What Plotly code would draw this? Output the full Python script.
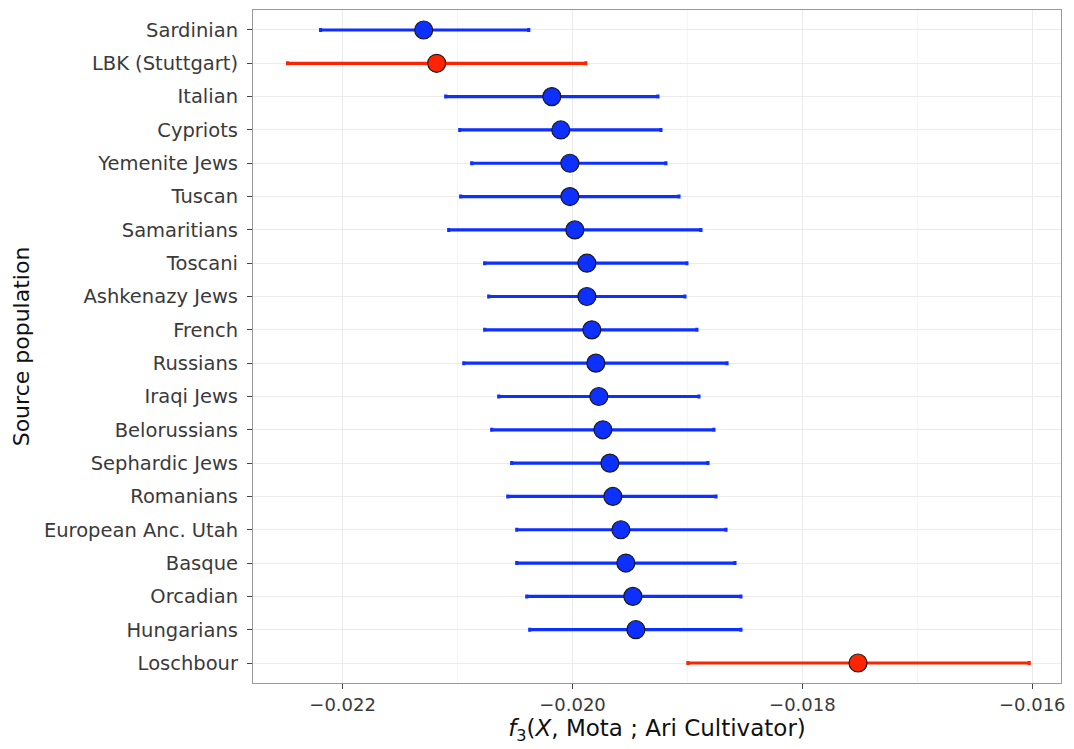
import plotly.graph_objects as go

populations = ["Sardinian", "LBK (Stuttgart)", "Italian", "Cypriots", "Yemenite Jews",
               "Tuscan", "Samaritians", "Toscani", "Ashkenazy Jews", "French",
               "Russians", "Iraqi Jews", "Belorussians", "Sephardic Jews", "Romanians",
               "European Anc. Utah", "Basque", "Orcadian", "Hungarians", "Loschbour"]
f3 = [-0.021295, -0.021182, -0.020180, -0.020102, -0.020023,
      -0.020023, -0.019980, -0.019875, -0.019875, -0.019832,
      -0.019797, -0.019771, -0.019736, -0.019675, -0.019649,
      -0.019579, -0.019536, -0.019475, -0.019449, -0.017516]
lower = [-0.022192, -0.022479, -0.021103, -0.020981, -0.020877,
         -0.020973, -0.021077, -0.020764, -0.020729, -0.020764,
         -0.020946, -0.020642, -0.020703, -0.020529, -0.020563,
         -0.020485, -0.020485, -0.020398, -0.020372, -0.018996]
upper = [-0.020381, -0.019884, -0.019257, -0.019231, -0.019188,
         -0.019074, -0.018883, -0.019005, -0.019022, -0.018918,
         -0.018656, -0.018900, -0.018770, -0.018822, -0.018752,
         -0.018665, -0.018587, -0.018535, -0.018535, -0.016027]
ancient = {"LBK (Stuttgart)", "Loschbour"}

xticks = [-0.022, -0.020, -0.018, -0.016]
xtick_labels = ["\u22120.022", "\u22120.020", "\u22120.018", "\u22120.016"]

BLUE = "#0d30ff"
RED = "#ff2400"
FONT = "DejaVu Sans, Liberation Sans, Arial, sans-serif"

fig = go.Figure()
for group, color in [(False, BLUE), (True, RED)]:
    idx = [i for i, p in enumerate(populations) if (p in ancient) == group]
    fig.add_trace(go.Scatter(
        x=[f3[i] for i in idx],
        y=[i for i in idx],
        mode="markers",
        marker=dict(size=18, color=color, line=dict(color="#1a1a1a", width=1.2)),
        error_x=dict(type="data", symmetric=False,
                     array=[upper[i] - f3[i] for i in idx],
                     arrayminus=[f3[i] - lower[i] for i in idx],
                     color=color, thickness=3.2, width=2),
        showlegend=False,
        hoverinfo="skip",
    ))

fig.update_layout(
    width=1074, height=749,
    margin=dict(l=253, r=9, t=10, b=66),
    paper_bgcolor="white",
    plot_bgcolor="white",
    font=dict(family=FONT, color="#333333"),
)
fig.update_xaxes(
    range=[-0.02278, -0.01575],
    tickvals=xticks, ticktext=xtick_labels,
    tickfont=dict(size=18, color="#3a3a3a", family=FONT),
    ticks="outside", ticklen=5, tickcolor="#444444", tickwidth=1.2,
    showgrid=True, gridcolor="#ebebeb", gridwidth=1,
    minor=dict(dtick=0.001, showgrid=True, gridcolor="#f5f5f5", gridwidth=0.8, ticks=""),
    showline=True, linecolor="#9a9a9a", linewidth=1.2, mirror=True,
    zeroline=False,
    title=dict(text="<i>f</i><sub>3</sub>(<i>X</i>, Mota ; Ari Cultivator)",
               font=dict(size=23, color="#111111", family=FONT), standoff=4),
)
fig.update_yaxes(
    range=[19.6, -0.6],
    tickvals=list(range(len(populations))), ticktext=populations,
    tickfont=dict(size=19.5, color="#3a3a3a", family=FONT),
    ticklabelstandoff=5,
    ticks="outside", ticklen=5, tickcolor="#444444", tickwidth=1.2,
    showgrid=True, gridcolor="#ebebeb", gridwidth=1,
    showline=True, linecolor="#9a9a9a", linewidth=1.2, mirror=True,
    zeroline=False,
    title=dict(text="Source population", font=dict(size=22, color="#111111", family=FONT), standoff=8),
)

fig.write_html("out.html")
